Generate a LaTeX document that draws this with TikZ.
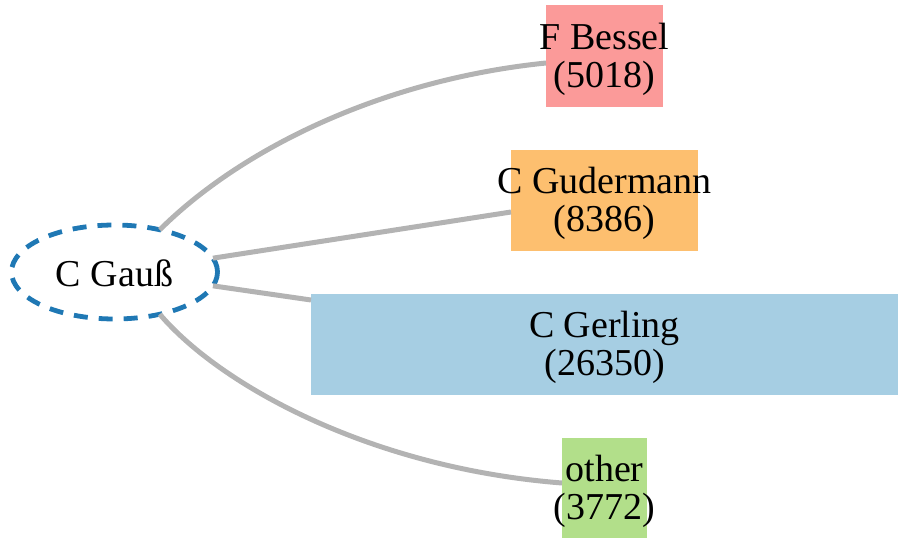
\documentclass[tikz,border=0pt]{standalone}
\usepackage{fontspec}
\setmainfont{Liberation Serif}
\usetikzlibrary{shapes.geometric}
\definecolor{cBessel}{HTML}{FB9A99}
\definecolor{cGuder}{HTML}{FDBF6F}
\definecolor{cGerling}{HTML}{A6CEE3}
\definecolor{cOther}{HTML}{B2DF8A}
\definecolor{cGauss}{HTML}{1F78B4}
\definecolor{cEdge}{RGB}{179,179,179}
\begin{document}
\begin{tikzpicture}[x=1pt,y=-1pt,
  boxnode/.style={rectangle,draw=none,inner sep=0pt,outer sep=0pt},
  lbl/.style={align=center,inner sep=0pt,yshift=-3pt,font=\fontsize{38}{38}\selectfont},
  edgeline/.style={draw=cEdge,line width=5pt},
  gaussnode/.style={ellipse,draw=cGauss,line width=4.8pt,dash pattern=on 14pt off 11pt,
     minimum width=206pt,minimum height=94pt,inner sep=0pt,outer sep=0pt}]
\useasboundingbox (0,0) rectangle (898,538);
% boxes
\node[boxnode,fill=cBessel,minimum width=117pt,minimum height=102pt] (bessel) at (604.5,56) {};
\node[boxnode,fill=cGuder,minimum width=187pt,minimum height=101pt] (guder) at (604.5,200.5) {};
\node[boxnode,fill=cGerling,minimum width=587pt,minimum height=101pt] (gerling) at (604.5,344.5) {};
\node[boxnode,fill=cOther,minimum width=85pt,minimum height=100pt] (other) at (604.5,488) {};
% ellipse
\node[gaussnode] (gauss) at (114.5,272) {};
\node[lbl,yshift=2pt] (gausst) at (gauss.center) {C Gauß};
% edges
\draw[edgeline] (gauss.43) .. controls (240,150) and (380,80) .. ([yshift=-7pt]bessel.west);
\draw[edgeline] (gauss.8.7) -- ([yshift=-11.5pt]guder.west);
\draw[edgeline] (gauss.-8.7) -- ([yshift=-6pt]gerling.north west);
\draw[edgeline] (gauss.-43.5) .. controls (220,385) and (370,468) .. ([yshift=5pt]other.west);
% labels
\node[lbl] (besselt) at (bessel.center) {F Bessel\\(5018)};
\node[lbl] (gudert) at (guder.center) {C Gudermann\\(8386)};
\node[lbl] (gerlingt) at (gerling.center) {C Gerling\\(26350)};
\node[lbl] (othert) at (other.center) {other\\(3772)};
\end{tikzpicture}
\end{document}
